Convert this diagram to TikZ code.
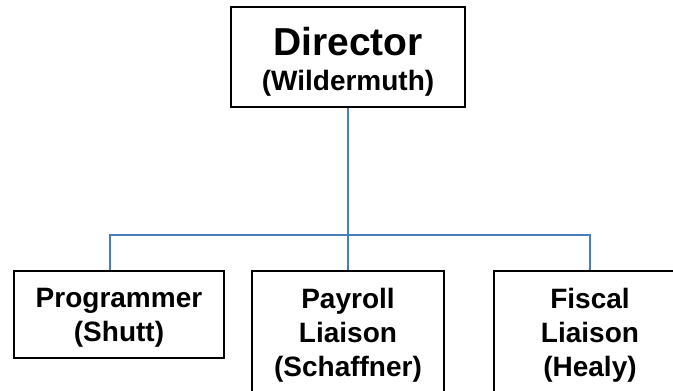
\documentclass[tikz,border=0pt]{standalone}
\usepackage{fontspec}
\setmainfont{Liberation Sans}
\usepackage{xcolor}
\usepackage{tikz}
\definecolor{orgblue}{RGB}{74,126,187}

\begin{document}
\begin{tikzpicture}[x=1pt,y=-1pt,
    box/.style={draw,line width=1.4,align=center,inner sep=0,
        font=\bfseries\fontsize{28}{34}\selectfont},
    link/.style={orgblue,line width=1.1}]
    \useasboundingbox (0,0) rectangle (673,391);
    \clip (0,0) rectangle (673,391);
    % the struts push the first line down a little
    \node[box,minimum width=234,minimum height=100] (dir) at (348,57)
    {{\fontsize{39}{39}\selectfont\rule{0pt}{37pt}Director}\\[1pt](Wildermuth)};
    \node[box,minimum width=210,minimum height=87] (prog) at (119,314.5)
    {\rule{0pt}{25pt}Programmer\\(Shutt)};
    \node[box,minimum width=192,minimum height=128] (pay) at (348,335)
    {Payroll\\Liaison\\(Schaffner)};
    \node[box,minimum width=192,minimum height=128] (fisc) at (590,335)
    {Fiscal\\Liaison\\(Healy)};
    \coordinate (bus) at (348,235);
    \draw[link] (dir) -- (pay);
    \draw[link] ([xshift=-9]prog.north) |- (bus) -| (fisc);
\end{tikzpicture}
\end{document}
